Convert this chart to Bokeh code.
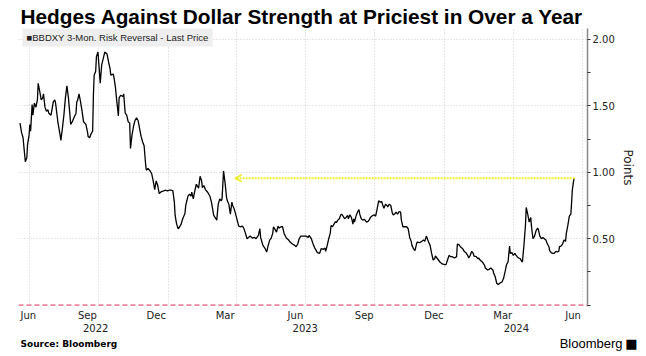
import pandas as pd
from bokeh.plotting import figure
from bokeh.layouts import column
from bokeh.models import (FixedTicker, DatetimeAxis, DatetimeTickFormatter, Span, Arrow,
                          OpenHead, Label, Range1d, ColumnDataSource, NumeralTickFormatter,
                          Title, Div)
from bokeh.embed import file_html
from bokeh.resources import INLINE

# ---------------- data ----------------
title_text = "Hedges Against Dollar Strength at Priciest in Over a Year"
series_name = "BBDXY 3-Mon. Risk Reversal - Last Price"
y_label = "Points"
source_text = "Source: Bloomberg"
brand_text = "Bloomberg"

dates = [
    "2022-06-19", "2022-06-21", "2022-06-23", "2022-06-26", "2022-06-28", "2022-06-29",
    "2022-07-01", "2022-07-02", "2022-07-03", "2022-07-05", "2022-07-06", "2022-07-08",
    "2022-07-10", "2022-07-12", "2022-07-13", "2022-07-15", "2022-07-17", "2022-07-19",
    "2022-07-20", "2022-07-22", "2022-07-24", "2022-07-26", "2022-07-27", "2022-07-30",
    "2022-08-02", "2022-08-04", "2022-08-05", "2022-08-08", "2022-08-11", "2022-08-12",
    "2022-08-14", "2022-08-16", "2022-08-18", "2022-08-20", "2022-08-22", "2022-08-24",
    "2022-08-25", "2022-08-27", "2022-08-30", "2022-09-01", "2022-09-02", "2022-09-03",
    "2022-09-05", "2022-09-07", "2022-09-09", "2022-09-11", "2022-09-14", "2022-09-16",
    "2022-09-17", "2022-09-19", "2022-09-21", "2022-09-23", "2022-09-24", "2022-09-25",
    "2022-09-27", "2022-09-28", "2022-09-30", "2022-10-01", "2022-10-03", "2022-10-05",
    "2022-10-07", "2022-10-09", "2022-10-12", "2022-10-14", "2022-10-16", "2022-10-17",
    "2022-10-20", "2022-10-21", "2022-10-23", "2022-10-25", "2022-10-27", "2022-10-28",
    "2022-10-30", "2022-11-02", "2022-11-03", "2022-11-05", "2022-11-07", "2022-11-09",
    "2022-11-11", "2022-11-12", "2022-11-14", "2022-11-16", "2022-11-18", "2022-11-20",
    "2022-11-22", "2022-11-24", "2022-11-26", "2022-11-28", "2022-11-30", "2022-12-02",
    "2022-12-03", "2022-12-05", "2022-12-08", "2022-12-10", "2022-12-12", "2022-12-14",
    "2022-12-16", "2022-12-18", "2022-12-20", "2022-12-23", "2022-12-26", "2022-12-28",
    "2022-12-31",
    "2023-01-02", "2023-01-05", "2023-01-07", "2023-01-09", "2023-01-10", "2023-01-12",
    "2023-01-14", "2023-01-16", "2023-01-18", "2023-01-20", "2023-01-23", "2023-01-24",
    "2023-01-27", "2023-01-29", "2023-01-31", "2023-02-01", "2023-02-03", "2023-02-05",
    "2023-02-07", "2023-02-08", "2023-02-10", "2023-02-12", "2023-02-14", "2023-02-15",
    "2023-02-17", "2023-02-19", "2023-02-22", "2023-02-25", "2023-02-27", "2023-03-02",
    "2023-03-05", "2023-03-06", "2023-03-08", "2023-03-10", "2023-03-12", "2023-03-13",
    "2023-03-15", "2023-03-17", "2023-03-19", "2023-03-20", "2023-03-22", "2023-03-24",
    "2023-03-26", "2023-03-27", "2023-03-29", "2023-03-31", "2023-04-02", "2023-04-04",
    "2023-04-06", "2023-04-09", "2023-04-11", "2023-04-13", "2023-04-15", "2023-04-17",
    "2023-04-19", "2023-04-22", "2023-04-25", "2023-04-27", "2023-04-30", "2023-05-02",
    "2023-05-03", "2023-05-06", "2023-05-09", "2023-05-11", "2023-05-13", "2023-05-15",
    "2023-05-17", "2023-05-19", "2023-05-20", "2023-05-22", "2023-05-24", "2023-05-26",
    "2023-05-27", "2023-05-30", "2023-06-01", "2023-06-03", "2023-06-06", "2023-06-09",
    "2023-06-11", "2023-06-14", "2023-06-17", "2023-06-19", "2023-06-21", "2023-06-23",
    "2023-06-25", "2023-06-28", "2023-07-01", "2023-07-02", "2023-07-05", "2023-07-06",
    "2023-07-09", "2023-07-12", "2023-07-14", "2023-07-17", "2023-07-20", "2023-07-22",
    "2023-07-25", "2023-07-27", "2023-07-28", "2023-07-30", "2023-08-01", "2023-08-03",
    "2023-08-04", "2023-08-06", "2023-08-08", "2023-08-10", "2023-08-11", "2023-08-13",
    "2023-08-15", "2023-08-17", "2023-08-18", "2023-08-20", "2023-08-22", "2023-08-24",
    "2023-08-26", "2023-08-27", "2023-08-29", "2023-08-31", "2023-09-02", "2023-09-03",
    "2023-09-04", "2023-09-06", "2023-09-08", "2023-09-10", "2023-09-11", "2023-09-13",
    "2023-09-15", "2023-09-17", "2023-09-18", "2023-09-20", "2023-09-22", "2023-09-24",
    "2023-09-25", "2023-09-28", "2023-09-30", "2023-10-02", "2023-10-04", "2023-10-06",
    "2023-10-08", "2023-10-10", "2023-10-11", "2023-10-13", "2023-10-15", "2023-10-17",
    "2023-10-18", "2023-10-20", "2023-10-22", "2023-10-24", "2023-10-25", "2023-10-27",
    "2023-10-29", "2023-10-31", "2023-11-02", "2023-11-04", "2023-11-05", "2023-11-07",
    "2023-11-10", "2023-11-12", "2023-11-14", "2023-11-16", "2023-11-18", "2023-11-19",
    "2023-11-21", "2023-11-23", "2023-11-25", "2023-11-26", "2023-11-29", "2023-12-02",
    "2023-12-04", "2023-12-06", "2023-12-08", "2023-12-10", "2023-12-11", "2023-12-13",
    "2023-12-15", "2023-12-17", "2023-12-19", "2023-12-20", "2023-12-22", "2023-12-24",
    "2023-12-26", "2023-12-29",
    "2024-01-01", "2024-01-03", "2024-01-05", "2024-01-07", "2024-01-09", "2024-01-11",
    "2024-01-14", "2024-01-17", "2024-01-18", "2024-01-20", "2024-01-22", "2024-01-25",
    "2024-01-27", "2024-01-30", "2024-02-01", "2024-02-02", "2024-02-04", "2024-02-06",
    "2024-02-08", "2024-02-09", "2024-02-12", "2024-02-14", "2024-02-15", "2024-02-17",
    "2024-02-20", "2024-02-23", "2024-02-24", "2024-02-27", "2024-02-29", "2024-03-02",
    "2024-03-05", "2024-03-06", "2024-03-08", "2024-03-10", "2024-03-12", "2024-03-14",
    "2024-03-17", "2024-03-19", "2024-03-21", "2024-03-23", "2024-03-25", "2024-03-27",
    "2024-03-28", "2024-03-30", "2024-04-01", "2024-04-03", "2024-04-04", "2024-04-06",
    "2024-04-08", "2024-04-10", "2024-04-11", "2024-04-13", "2024-04-15", "2024-04-17",
    "2024-04-18", "2024-04-20", "2024-04-22", "2024-04-24", "2024-04-25", "2024-04-27",
    "2024-04-29", "2024-05-01", "2024-05-03", "2024-05-04", "2024-05-06", "2024-05-08",
    "2024-05-10", "2024-05-12", "2024-05-14", "2024-05-16", "2024-05-18", "2024-05-19",
    "2024-05-21", "2024-05-23", "2024-05-25", "2024-05-27", "2024-05-29", "2024-05-31",
    "2024-06-01", "2024-06-03", "2024-06-05", "2024-06-07", "2024-06-09", "2024-06-10",
    "2024-06-12", "2024-06-14", "2024-06-16", "2024-06-17", "2024-06-18", "2024-06-20",
    "2024-06-21",
]

values = [
    1.37, 1.30, 1.26, 1.08, 1.11, 1.21,
    1.28, 1.36, 1.31, 1.51, 1.43, 1.52,
    1.49, 1.545, 1.67, 1.61, 1.545, 1.56,
    1.59, 1.49, 1.46, 1.47, 1.445, 1.43,
    1.53, 1.545, 1.52, 1.38, 1.28, 1.24,
    1.33, 1.43, 1.56, 1.65, 1.56, 1.43,
    1.36, 1.38, 1.42, 1.445, 1.53, 1.54,
    1.59, 1.53, 1.46, 1.38, 1.36, 1.31,
    1.27, 1.26, 1.29, 1.31, 1.58, 1.73,
    1.76, 1.87, 1.905, 1.83, 1.67, 1.81,
    1.855, 1.905, 1.89, 1.83, 1.78, 1.73,
    1.74, 1.72, 1.645, 1.53, 1.425, 1.56,
    1.58, 1.57, 1.59, 1.445, 1.43, 1.38,
    1.37, 1.18, 1.28, 1.345, 1.39, 1.41,
    1.39, 1.33, 1.27, 1.23, 1.20, 1.06,
    1.015, 1.03, 1.01, 0.99, 0.935, 0.87,
    0.935, 0.90, 0.84, 0.855, 0.86, 0.865,
    0.86,
    0.865, 0.865, 0.86, 0.775, 0.675, 0.61,
    0.575, 0.59, 0.61, 0.65, 0.69, 0.75,
    0.82, 0.835, 0.82, 0.85, 0.80, 0.86,
    0.91, 0.90, 0.88, 0.97, 0.935, 0.885,
    0.90, 0.87, 0.85, 0.82, 0.775, 0.675,
    0.65, 0.64, 0.76, 0.80, 0.785, 0.80,
    1.01, 0.92, 0.81, 0.785, 0.76, 0.685,
    0.775, 0.75, 0.725, 0.685, 0.64, 0.595,
    0.59, 0.595, 0.575, 0.54, 0.50, 0.51,
    0.52, 0.505, 0.51, 0.50, 0.525, 0.575,
    0.51, 0.45, 0.425, 0.40, 0.45, 0.49,
    0.505, 0.54, 0.59, 0.57, 0.55, 0.595,
    0.58, 0.59, 0.59, 0.54, 0.505, 0.49,
    0.475, 0.46, 0.45, 0.44, 0.46, 0.50,
    0.52, 0.52, 0.52, 0.52, 0.51, 0.525,
    0.50, 0.45, 0.425, 0.395, 0.39, 0.425,
    0.42, 0.43, 0.405, 0.45, 0.50, 0.54,
    0.60, 0.59, 0.61, 0.63, 0.62, 0.64,
    0.65, 0.68, 0.685, 0.67, 0.65, 0.66,
    0.675, 0.65, 0.68, 0.66, 0.61, 0.65,
    0.625, 0.67, 0.70, 0.72, 0.685, 0.65,
    0.64, 0.645, 0.64, 0.625, 0.63, 0.645,
    0.66, 0.675, 0.68, 0.67, 0.725, 0.785,
    0.775, 0.78, 0.76, 0.73, 0.76, 0.75,
    0.74, 0.76, 0.75, 0.695, 0.68, 0.685,
    0.70, 0.685, 0.705, 0.70, 0.64, 0.59,
    0.59, 0.59, 0.575, 0.51, 0.48, 0.45,
    0.425, 0.41, 0.46, 0.475, 0.47, 0.48,
    0.49, 0.48, 0.52, 0.49, 0.475, 0.45,
    0.39, 0.34, 0.35, 0.37, 0.355, 0.34,
    0.325, 0.31,
    0.305, 0.305, 0.34, 0.375, 0.365, 0.365,
    0.355, 0.365, 0.46, 0.455, 0.44, 0.425,
    0.405, 0.39, 0.37, 0.355, 0.375, 0.405,
    0.39, 0.37, 0.365, 0.35, 0.355, 0.34,
    0.325, 0.30, 0.28, 0.265, 0.27, 0.28,
    0.265, 0.24, 0.215, 0.165, 0.155, 0.165,
    0.175, 0.20, 0.25, 0.305, 0.325, 0.445,
    0.39, 0.395, 0.375, 0.39, 0.38, 0.365,
    0.355, 0.35, 0.34, 0.325, 0.45, 0.60,
    0.735, 0.685, 0.625, 0.66, 0.59, 0.50,
    0.52, 0.56, 0.58, 0.57, 0.52, 0.50,
    0.51, 0.50, 0.49, 0.46, 0.44, 0.41,
    0.395, 0.39, 0.39, 0.405, 0.40, 0.405,
    0.44, 0.445, 0.46, 0.49, 0.48, 0.54,
    0.60, 0.67, 0.685, 0.775, 0.87, 0.95,
    0.95,
]

month_tick_dates = ["2022-06-30", "2022-09-16", "2022-12-16", "2023-03-17", "2023-06-18",
                    "2023-09-17", "2023-12-18", "2024-03-18", "2024-06-19"]
year_tick_dates = ["2022-09-27", "2023-07-01", "2024-04-05"]
grid_dates = ["2022-07-01", "2022-10-01", "2023-01-01", "2023-04-01", "2023-07-01",
              "2023-10-01", "2024-01-01", "2024-04-01", "2024-07-01"]
y_major = [0.5, 1.0, 1.5, 2.0]
y_minor = [0.0, 0.25, 0.75, 1.25, 1.75]
x_window = ["2022-06-17", "2024-07-08"]
y_window = [-0.01, 2.082]
arrow_from = "2024-06-21"
arrow_to = "2023-03-30"
arrow_level = 0.955


def ms(d):
    return pd.Timestamp(d).value / 1e6


# ---------------- main figure ----------------
p = figure(width=646, height=334, x_axis_type="datetime", y_axis_location="right",
           output_backend="svg", toolbar_location=None, title=None,
           min_border_left=18, min_border_right=59, min_border_top=28, min_border_bottom=27,
           x_range=Range1d(ms(x_window[0]), ms(x_window[1])),
           y_range=Range1d(y_window[0], y_window[1]))
p.outline_line_color = None
p.background_fill_color = "white"
p.border_fill_color = "white"

p.add_layout(Title(text=title_text, align="left", offset=2, standoff=2,
                   text_font="Liberation Sans", text_font_style="bold",
                   text_font_size="20.8px", text_color="black"), "above")

src = ColumnDataSource({"date": pd.to_datetime(dates), "value": values})
p.line(x="date", y="value", source=src, line_color="black", line_width=1.3)

# grids
p.xgrid.ticker = FixedTicker(ticks=[ms(d) for d in grid_dates])
p.ygrid.ticker = FixedTicker(ticks=y_major)
for g in (p.xgrid, p.ygrid):
    g.grid_line_color = "#cfcfcf"
    g.grid_line_dash = "1 2"
    g.grid_line_width = 1

# zero line
p.add_layout(Span(location=0, dimension="width", line_color="#e8849c",
                  line_dash="5 3", line_width=1.6))

# arrow to prior high
p.add_layout(Arrow(x_start=ms(arrow_from), y_start=arrow_level,
                   x_end=ms(arrow_to), y_end=arrow_level,
                   line_color="#f0ee30", line_width=2, line_dash="2 1",
                   end=OpenHead(size=7, line_color="#f0ee30", line_width=1.5)))

# x axes
fmt_month = DatetimeTickFormatter(microseconds="%b", milliseconds="%b", seconds="%b",
                                  minsec="%b", minutes="%b", hourmin="%b", hours="%b",
                                  days="%b", months="%b", years="%b")
fmt_year = DatetimeTickFormatter(microseconds="%Y", milliseconds="%Y", seconds="%Y",
                                 minsec="%Y", minutes="%Y", hourmin="%Y", hours="%Y",
                                 days="%Y", months="%Y", years="%Y")
xa = p.xaxis[0]
xa.ticker = FixedTicker(ticks=[ms(d) for d in month_tick_dates])
xa.formatter = fmt_month
ya2 = DatetimeAxis(ticker=FixedTicker(ticks=[ms(d) for d in year_tick_dates]),
                   formatter=fmt_year)
p.add_layout(ya2, "below")
for ax in (xa, ya2):
    ax.axis_line_color = None
    ax.major_tick_line_color = None
    ax.minor_tick_line_color = None
    ax.major_tick_in = 0
    ax.major_tick_out = 0
    ax.minor_tick_in = 0
    ax.minor_tick_out = 0
    ax.major_label_text_font = "DejaVu Sans"
    ax.major_label_text_font_size = "10px"
    ax.major_label_text_color = "#222222"
xa.major_label_standoff = 3
ya2.major_label_standoff = 0

# y axis (right)
yax = p.yaxis[0]
yax.ticker = FixedTicker(ticks=y_major, minor_ticks=y_minor)
yax.formatter = NumeralTickFormatter(format="0.00")
yax.axis_line_color = "#8a8a8a"
yax.axis_line_width = 1.5
yax.major_tick_line_color = "#333333"
yax.minor_tick_line_color = "#333333"
yax.major_tick_in = 0
yax.major_tick_out = 3
yax.minor_tick_in = 0
yax.minor_tick_out = 3
yax.major_label_standoff = 2
yax.major_label_text_font = "DejaVu Sans"
yax.major_label_text_font_size = "10px"
yax.major_label_text_color = "#222222"
yax.axis_label = y_label
yax.axis_label_text_font = "DejaVu Sans"
yax.axis_label_text_font_size = "12px"
yax.axis_label_text_font_style = "normal"
yax.axis_label_text_color = "#222222"
yax.axis_label_standoff = 3

# legend box
p.add_layout(Label(x=4, y=269.5, x_units="screen", y_units="screen",
                   text="\u25a0" + series_name,
                   text_font="Liberation Sans", text_font_size="9.5px", text_color="#222222",
                   text_baseline="middle", background_fill_color="#eeeeee",
                   padding=4))

# ---------------- footer strip (source + brand) ----------------
footer = None
try:
    f = figure(width=646, height=22, output_backend="svg", toolbar_location=None,
               title=None, min_border=0, x_range=Range1d(0, 1), y_range=Range1d(0, 1))
    f.frame_align = False
    p.frame_align = False
    f.axis.visible = False
    f.grid.visible = False
    f.outline_line_color = None
    f.background_fill_color = "white"
    f.border_fill_color = "white"
    f.add_layout(Label(x=20, y=13, x_units="screen", y_units="screen", text=source_text,
                       text_font="DejaVu Sans", text_font_style="bold", text_font_size="9px",
                       text_color="black", text_baseline="middle"))
    f.add_layout(Label(x=622, y=13, x_units="screen", y_units="screen", text=brand_text,
                       text_font="Liberation Sans", text_font_size="13px",
                       text_color="black", text_baseline="middle", text_align="right"))
    f.add_layout(Label(x=637, y=13, x_units="screen", y_units="screen", text="\u25a0",
                       text_font="DejaVu Sans", text_font_size="13px",
                       text_color="black", text_baseline="middle", text_align="right"))
    footer = f
except Exception:
    footer = Div(width=646, height=22, text=(
        '<div style="position:relative;width:646px;height:22px;font-family:DejaVu Sans">'
        '<span style="position:absolute;left:20px;top:3px;font-size:9px;font-weight:bold">'
        + source_text + '</span>'
        '<span style="position:absolute;right:10px;top:0px;font-size:13px;'
        'font-family:Liberation Sans">' + brand_text + ' \u25a0</span></div>'))

page = column(p, footer, spacing=0)
open("out.html", "w").write(file_html(page, INLINE))
